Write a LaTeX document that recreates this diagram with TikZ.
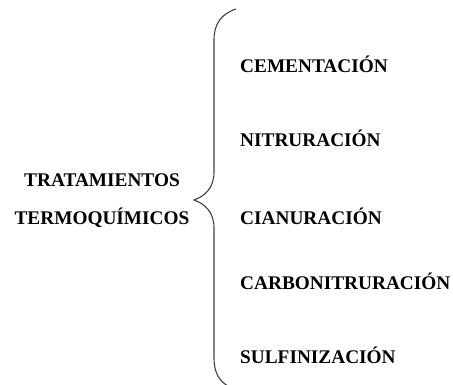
\documentclass[tikz,border=0pt]{standalone}
\usepackage{fontspec}
\setmainfont{Liberation Serif}
\begin{document}
\begin{tikzpicture}[x=1pt,y=-1pt,
  lbl/.style={font=\fontsize{19.3}{22}\selectfont\bfseries, text=black, inner sep=0pt},
  item/.style={lbl, anchor=west},
  brace/.style={draw=black!75, line width=1.1pt}]
\useasboundingbox (0,0) rectangle (453,385);
\node[lbl] (t1) at (102,180) {TRATAMIENTOS};
\node[lbl] (t2) at (102,218) {TERMOQUÍMICOS};
\coordinate (tip) at (194,200);
\coordinate (top) at (236,9);
\coordinate (bot) at (228,386);
\draw[brace] (top) .. controls (221,14) and (214,24) .. (214,40)
  -- (214,172) .. controls (214,188) and (205,196) .. (tip)
  .. controls (205,204) and (214,212) .. (214,228)
  -- (214,358) .. controls (214,372) and (219,381) .. (bot);
\node[item] (c1) at (240,64) {CEMENTACIÓN};
\node[item] (c2) at (240,138) {NITRURACIÓN};
\node[item] (c3) at (240,216) {CIANURACIÓN};
\node[item] (c4) at (240,281) {CARBONITRURACIÓN};
\node[item] (c5) at (240,355) {SULFINIZACIÓN};
\end{tikzpicture}
\end{document}
